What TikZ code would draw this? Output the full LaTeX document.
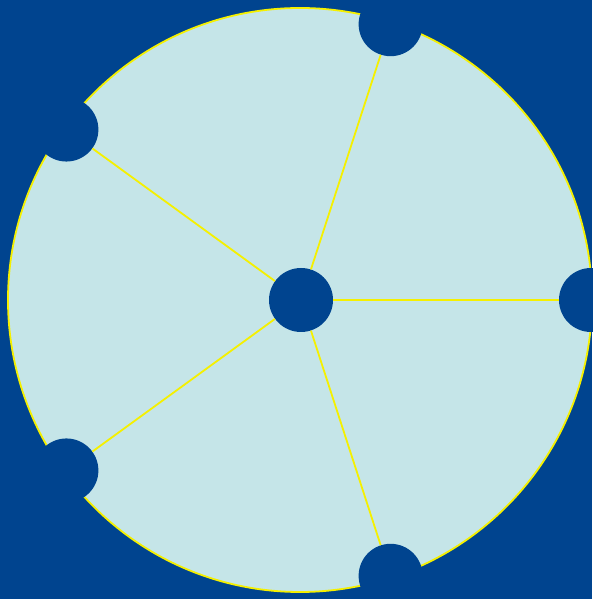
\documentclass[tikz,border=0pt]{standalone}
\usetikzlibrary{positioning, calc}
\definecolor{hubblue}{HTML}{00448F}
\definecolor{wheelfill}{HTML}{C5E5E8}
\definecolor{spokeyellow}{HTML}{F5F000}

\begin{document}
\begin{tikzpicture}[x=1pt, y=1pt,
    hubnode/.style={circle, fill=hubblue, minimum size=64pt, inner sep=0pt}]

  % === Background ===
  \fill[hubblue] (0,0) rectangle (592,599);
  \useasboundingbox (0,0) rectangle (592,599);

  % Wheel
  \filldraw[fill=wheelfill, draw=spokeyellow, line width=1.8pt] (300,299) circle (292);

  % Hub and rim nodes
  \node[hubnode] (hub) at (301,299) {};
  \foreach \i in {0,...,4} {
    \node[hubnode] (rim\i) at ($(301,299)+(\i*72:290)$) {};
  }

  % Spokes
  \foreach \i in {0,...,4} {
    \draw[spokeyellow, line width=1.8pt] (hub) -- (rim\i);
  }

\end{tikzpicture}
\end{document}
